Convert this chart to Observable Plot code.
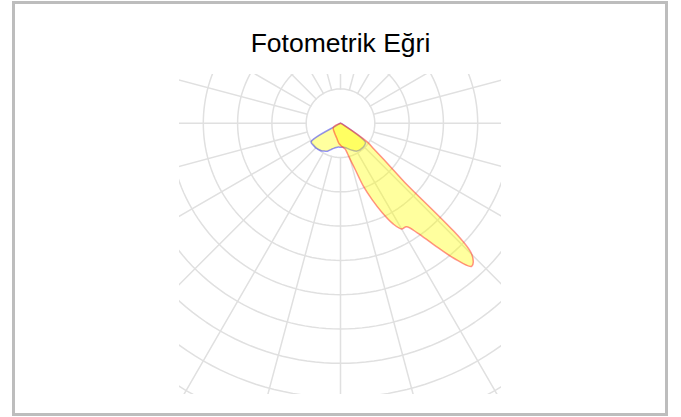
<!DOCTYPE html>
<html>
<head>
<meta charset="utf-8">
<script src="https://cdn.jsdelivr.net/npm/d3@7"></script>
<script src="https://cdn.jsdelivr.net/npm/@observablehq/plot@0.6"></script>
<style>
  html, body { margin: 0; padding: 0; background: #fff; }
  body { width: 681px; height: 417px; position: relative; overflow: hidden; font-family: "Liberation Sans", Arial, sans-serif; }
  #frame { position: absolute; left: 12px; top: 1px; width: 656px; height: 415px; box-sizing: border-box; border: 3px solid #bdbdbd; }
  #title { position: absolute; left: 0; width: 681px; top: 29.5px; text-align: center; font-size: 26.5px; line-height: 26.5px; color: #000; }
  #chart { position: absolute; left: 179px; top: 74px; width: 322px; height: 320px; overflow: hidden; }
</style>
</head>
<body>
<div id="frame"></div>
<div id="title">Fotometrik Eğri</div>
<div id="chart"></div>
<script>
// Grid (cd/klm) — ring values and spoke angles (degrees from nadir)
const rings = [50, 100, 150, 200, 250, 300, 350, 400, 450];
const spokeAngles = d3.range(0, 360, 15);

// C0 – C180 plane (red): gamma (deg, negative = C180 side) and intensity
const redGamma  = [-90, -60, -30, -15, -5, 0, 5, 10, 12.5, 15, 17.5, 20, 22.5, 25, 27.5, 30, 32.5, 35, 37.5, 40, 42.5, 45, 47.5, 50, 52.5, 55, 60, 90];
const redValues = [0, 12, 17, 22, 29, 32, 35, 38, 44, 55, 70, 98, 121, 144, 165, 178, 179, 195, 223, 257, 283, 271, 124, 82, 60, 48, 6, 0];

// C90 – C270 plane (blue)
const blueGamma  = [-90, -60, -57.5, -50, -45, -40, -35, -30, -25, -20, -15, -10, -5, 0, 5, 10, 15, 20, 25, 30, 35, 40, 45, 50, 52.5, 60, 90];
const blueValues = [0, 7, 51, 51, 51, 50, 49, 47, 45, 41, 38, 36, 35, 35, 35, 36, 38, 41, 44, 47, 48, 48, 48, 47, 46, 7, 0];

const rad = Math.PI / 180;
const toXY = (g, v) => ({x: v * Math.sin(g * rad), y: -v * Math.cos(g * rad)});

const ringPts = rings.flatMap(r => d3.range(0, 361, 2).map(a => ({ring: r, ...toXY(a, r)})));
const spokePts = spokeAngles.flatMap(a => [{a, ...toXY(a, rings[0])}, {a, ...toXY(a, 700)}]);
const redPts = redGamma.map((g, i) => toXY(g, redValues[i]));
const bluePts = blueGamma.map((g, i) => toXY(g, blueValues[i]));

const pxPerUnit = 34.3 / 50;
const W = 322, H = 320, cx = 161, cy = 48.7;

const plot = Plot.plot({
  width: W,
  height: H,
  margin: 0,
  style: {background: "transparent", overflow: "hidden"},
  x: {domain: [-cx / pxPerUnit, (W - cx) / pxPerUnit], axis: null},
  y: {domain: [-(H - cy) / pxPerUnit, cy / pxPerUnit], axis: null},
  marks: [
    Plot.line(ringPts, {x: "x", y: "y", z: "ring", stroke: "#e0e0e0", strokeWidth: 1.5, clip: true}),
    Plot.line(spokePts, {x: "x", y: "y", z: "a", stroke: "#e0e0e0", strokeWidth: 1.5, clip: true}),
    Plot.line(bluePts, {x: "x", y: "y", fill: "rgba(255,255,0,0.38)", stroke: "rgba(40,40,255,0.5)", strokeWidth: 1.5, curve: "catmull-rom-closed", clip: true}),
    Plot.line(redPts, {x: "x", y: "y", fill: "rgba(255,255,0,0.38)", stroke: "rgba(255,40,40,0.5)", strokeWidth: 1.5, curve: "catmull-rom-closed", clip: true})
  ]
});
document.getElementById("chart").appendChild(plot);
</script>
</body>
</html>
